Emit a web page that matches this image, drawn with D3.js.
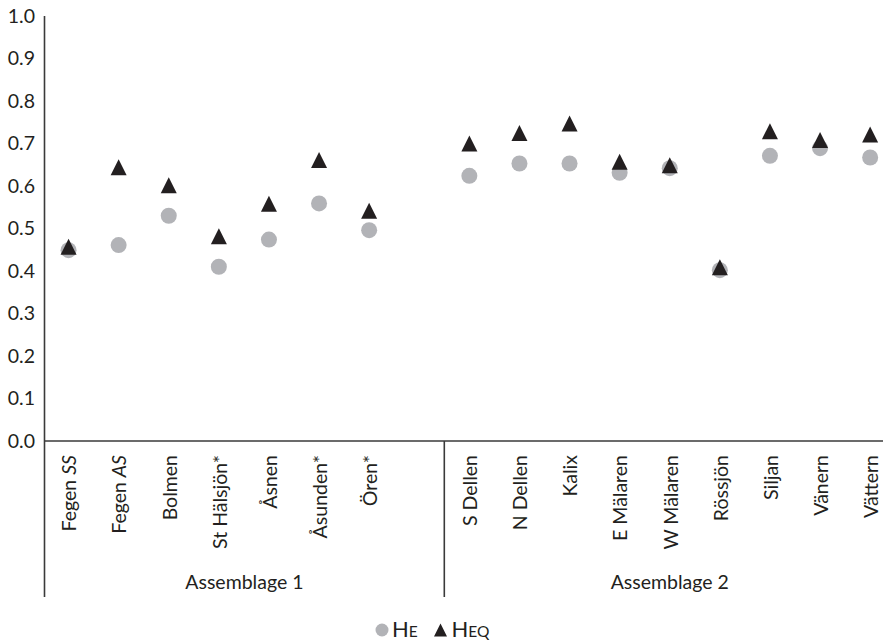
<!DOCTYPE html>
<html>
<head>
<meta charset="utf-8">
<script src="https://cdn.jsdelivr.net/npm/d3@7"></script>
<style>
  html, body { margin: 0; padding: 0; background: #fff; }
  svg { display: block; }
  text { font-family: Lato, "Open Sans", sans-serif; fill: #231f20; }
</style>
</head>
<body>
<svg id="chart" width="883" height="641"></svg>
<script>
// ---- data ----
const group1Categories = ["Fegen SS", "Fegen AS", "Bolmen", "St Hälsjön*", "Åsnen", "Åsunden*", "Ören*"];
const group2Categories = ["S Dellen", "N Dellen", "Kalix", "E Mälaren", "W Mälaren", "Rössjön", "Siljan", "Vänern", "Vättern"];
const groupNames = ["Assemblage 1", "Assemblage 2"];
const heValues  = [0.449, 0.461, 0.530, 0.410, 0.474, 0.559, 0.496,
                   0.624, 0.653, 0.653, 0.631, 0.642, 0.402, 0.671, 0.689, 0.667];
const heqValues = [0.457, 0.644, 0.602, 0.482, 0.558, 0.661, 0.542,
                   0.700, 0.725, 0.747, 0.657, 0.649, 0.409, 0.729, 0.708, 0.721];
const yTicks = [0.0, 0.1, 0.2, 0.3, 0.4, 0.5, 0.6, 0.7, 0.8, 0.9, 1.0];
const italicParts = {"Fegen SS": ["Fegen ", "SS"], "Fegen AS": ["Fegen ", "AS"]};

// ---- layout ----
const svg = d3.select("#chart");
const x0 = 44.5, yTop = 16, yBase = 441, yBottom = 597;
const pitch = 50.1;
const slots = [...group1Categories, "__gap__", ...group2Categories];
const categories = [...group1Categories, ...group2Categories];

const x = d3.scaleBand().domain(slots).range([x0 - 1, x0 - 1 + slots.length * pitch]).padding(0);
const y = d3.scaleLinear().domain([0, 1]).range([yBase, yTop]);
const cx = d => x(d) + x.bandwidth() / 2;

const axisColor = "#3a3a3a";

// y axis tick labels (no tick marks)
const yAxis = d3.axisLeft(y).tickValues(yTicks).tickFormat(d3.format(".1f")).tickSize(0).tickPadding(9.5);
const gy = svg.append("g").attr("transform", `translate(${x0},0)`).call(yAxis);
gy.select(".domain").remove();
gy.selectAll("text").style("font-family", "Lato, sans-serif").style("font-size", "19.5px").attr("fill", "#231f20");

// axis lines
svg.append("line").attr("x1", x0).attr("x2", x0).attr("y1", yTop).attr("y2", yBottom)
  .attr("stroke", axisColor).attr("stroke-width", 1.6);
svg.append("line").attr("x1", x0).attr("x2", 900).attr("y1", yBase).attr("y2", yBase)
  .attr("stroke", axisColor).attr("stroke-width", 1.6);
// group separator
const sepX = x("__gap__") + x.bandwidth();
svg.append("line").attr("x1", sepX).attr("x2", sepX).attr("y1", yBase).attr("y2", yBottom)
  .attr("stroke", axisColor).attr("stroke-width", 1.6);

// category labels (rotated)
const labels = svg.append("g").selectAll("text").data(categories).join("text")
  .attr("transform", d => `translate(${cx(d)},${yBase + 14}) rotate(-90)`)
  .attr("text-anchor", "end")
  .attr("dy", "0.4em")
  .style("font-size", "19.5px");
labels.each(function(d) {
  const t = d3.select(this);
  if (italicParts[d]) {
    t.append("tspan").text(italicParts[d][0]);
    t.append("tspan").style("font-style", "italic").text(italicParts[d][1]);
  } else {
    t.text(d);
  }
});

// group labels
const g1Center = (x0 + sepX) / 2;
const g2Center = sepX + group2Categories.length * pitch / 2;
svg.append("g").selectAll("text").data(groupNames).join("text")
  .attr("x", (d, i) => i === 0 ? g1Center : g2Center)
  .attr("y", 589)
  .attr("text-anchor", "middle")
  .style("font-size", "19.5px")
  .text(d => d);

// markers
const circleColor = "#b2b3b7";
const triColor = "#231f20";
const tri = s => `M0,${-s/2}L${s/2},${s/2}L${-s/2},${s/2}Z`;

svg.append("g").selectAll("circle").data(categories).join("circle")
  .attr("cx", d => cx(d))
  .attr("cy", (d, i) => y(heValues[i]))
  .attr("r", 8)
  .attr("fill", circleColor);

svg.append("g").selectAll("path").data(categories).join("path")
  .attr("d", tri(16))
  .attr("transform", (d, i) => `translate(${cx(d)},${y(heqValues[i])})`)
  .attr("fill", triColor);

// legend
const lg = svg.append("g");
lg.append("circle").attr("cx", 382).attr("cy", 630).attr("r", 6.5).attr("fill", circleColor);
const t1 = lg.append("text").attr("x", 392).attr("y", 636.5);
t1.append("tspan").style("font-size", "22px").text("H");
t1.append("tspan").style("font-size", "15.5px").text("E");
lg.append("path").attr("d", tri(13)).attr("transform", "translate(440.5,630)").attr("fill", triColor);
const t2 = lg.append("text").attr("x", 451.5).attr("y", 636.5);
t2.append("tspan").style("font-size", "22px").text("H");
t2.append("tspan").style("font-size", "15.5px").text("EQ");
</script>
</body>
</html>
